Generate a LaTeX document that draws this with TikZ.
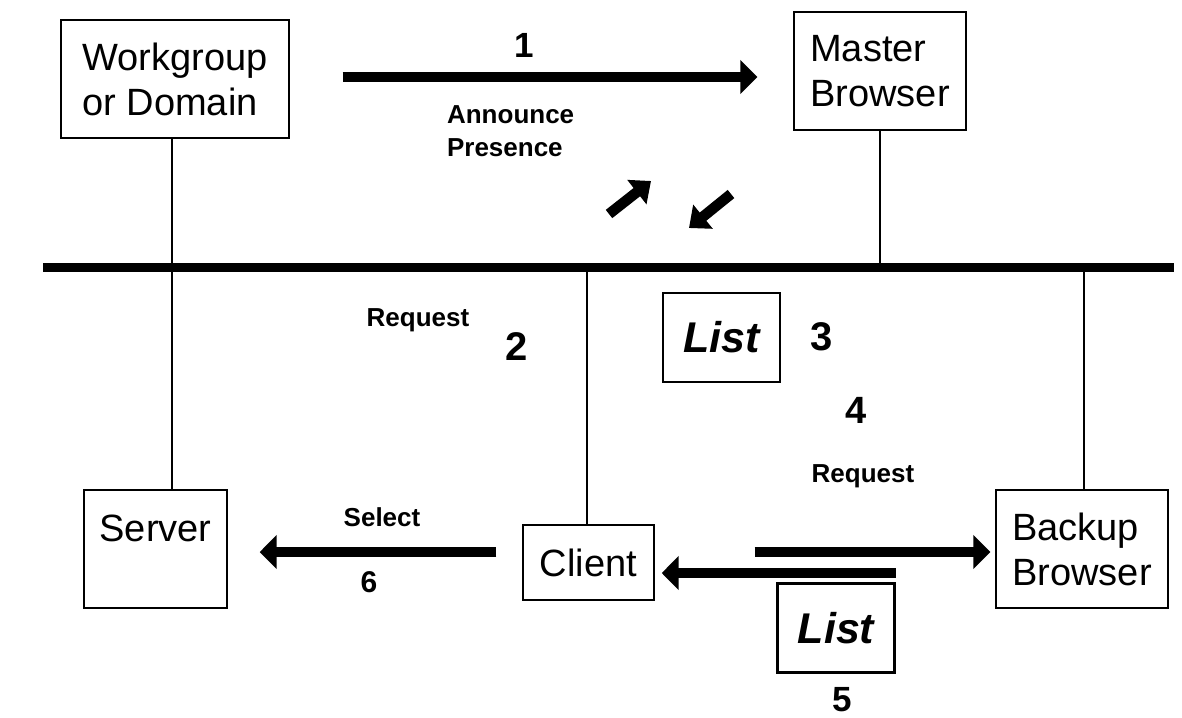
\documentclass[tikz,border=0pt]{standalone}
\usepackage{fontspec}
\setmainfont{Liberation Sans}
\usetikzlibrary{arrows.meta,positioning}

\newcommand\boxfont{\fontsize{19}{22.5}\selectfont}
\newcommand\listfont{\bfseries\itshape\fontsize{21.5}{24}\selectfont}

\begin{document}
\begin{tikzpicture}[
  x=0.5pt, y=-0.5pt,
  box/.style={draw, line width=0.7pt, font=\boxfont, align=left, inner sep=0pt},
  listbox/.style={draw, line width=1.3pt, font=\listfont, inner sep=0pt,
                  minimum width=58.5pt, minimum height=44.5pt},
  fat/.style={-{Triangle[length=8.5pt,width=16.5pt]}, line width=5.25pt},
  slant/.style={-{Triangle[length=9pt,width=15pt]}, line width=5.25pt},
  wire/.style={line width=0.7pt},
  bus/.style={line width=4.5pt},
  tag/.style={font=\bfseries\fontsize{13}{16.5}\selectfont, align=left},
  num/.style={font=\bfseries\fontsize{#1}{#1}\selectfont},
]
\useasboundingbox (0,0) rectangle (1182,717);

% Hosts on the segment
\node[box, minimum width=114pt, minimum height=59pt] (wg) at (175,79)
  {Workgroup\\or Domain};
\node[box, minimum width=86pt, minimum height=59pt] (mb) at (880,71)
  {Master\\Browser};
\node[box, minimum width=71.5pt, minimum height=59pt,
      label={[font=\boxfont, yshift=10.25pt]center:Server}] (srv) at (155.5,549) {};
\node[box, minimum width=65.5pt, minimum height=37.5pt] (cl) at (588.5,562.5)
  {Client};
\node[box, minimum width=86pt, minimum height=59pt] (bb) at (1082,549)
  {Backup\\Browser};

% Browse lists
\node[listbox] (list1) at (721.5,337.5) {List};
\node[listbox] (list2) at (836,628) {List};

% Bus
\coordinate (busL) at (43,267);
\coordinate (busR) at (1174,267);
\draw[wire] ([xshift=-1.5pt]wg.south) -- ([xshift=-1.5pt]wg.south |- srv.north);
\draw[wire] (mb.south) -- (mb.south |- busL);
\draw[wire] ([xshift=-0.75pt]cl.north) -- ([xshift=-0.75pt]cl.north |- busL);
\draw[wire] ([xshift=1pt]bb.north) -- ([xshift=1pt]bb.north |- busL);
\draw[bus] (busL) -- (busR);

% Step 1: announce
\draw[fat, shorten <=26.5pt, shorten >=18pt]
  ([yshift=1pt]wg.east) -- ([yshift=1pt]wg.east -| mb.west);
\node[num=17.5] (n1) at (524,45) {1};
\node[tag, anchor=west] (announce) at (440,131) {Announce\\Presence};

% Steps 2 and 3: request list from the master
\coordinate (up0) at (609,214);
\coordinate (up1) at (651,181);
\coordinate (dn0) at (731,194);
\coordinate (dn1) at (689,228);
\draw[slant] (up0) -- (up1);
\draw[slant] (dn0) -- (dn1);
\node[tag] (req1) at (418,320) {Request};
\node[num=20] (n2) at (517,347) {2};
\node[num=20] (n3) at (822,337) {3};

% Steps 4 and 5: ask the backup browser
\node[num=19] (n4) at (856,410) {4};
\node[tag] (req2) at (863,476) {Request};
\draw[fat, shorten <=50pt, shorten >=2.5pt]
  ([yshift=5.25pt]cl.east) -- ([yshift=5.25pt]cl.east -| bb.west);
\draw[fat, shorten >=3.5pt]
  ([yshift=-5.25pt]cl.east -| list2.east) -- ([yshift=-5.25pt]cl.east);
\node[num=17.5] (n5) at (842,700) {5};

% Step 6: pick a server
\draw[fat, shorten <=13pt, shorten >=16pt]
  ([yshift=-1.5pt]srv.east -| cl.west) -- ([yshift=-1.5pt]srv.east);
\node[tag] (sel) at (382,517) {Select};
\node[num=15] (n6) at (369,582) {6};
\end{tikzpicture}
\end{document}
